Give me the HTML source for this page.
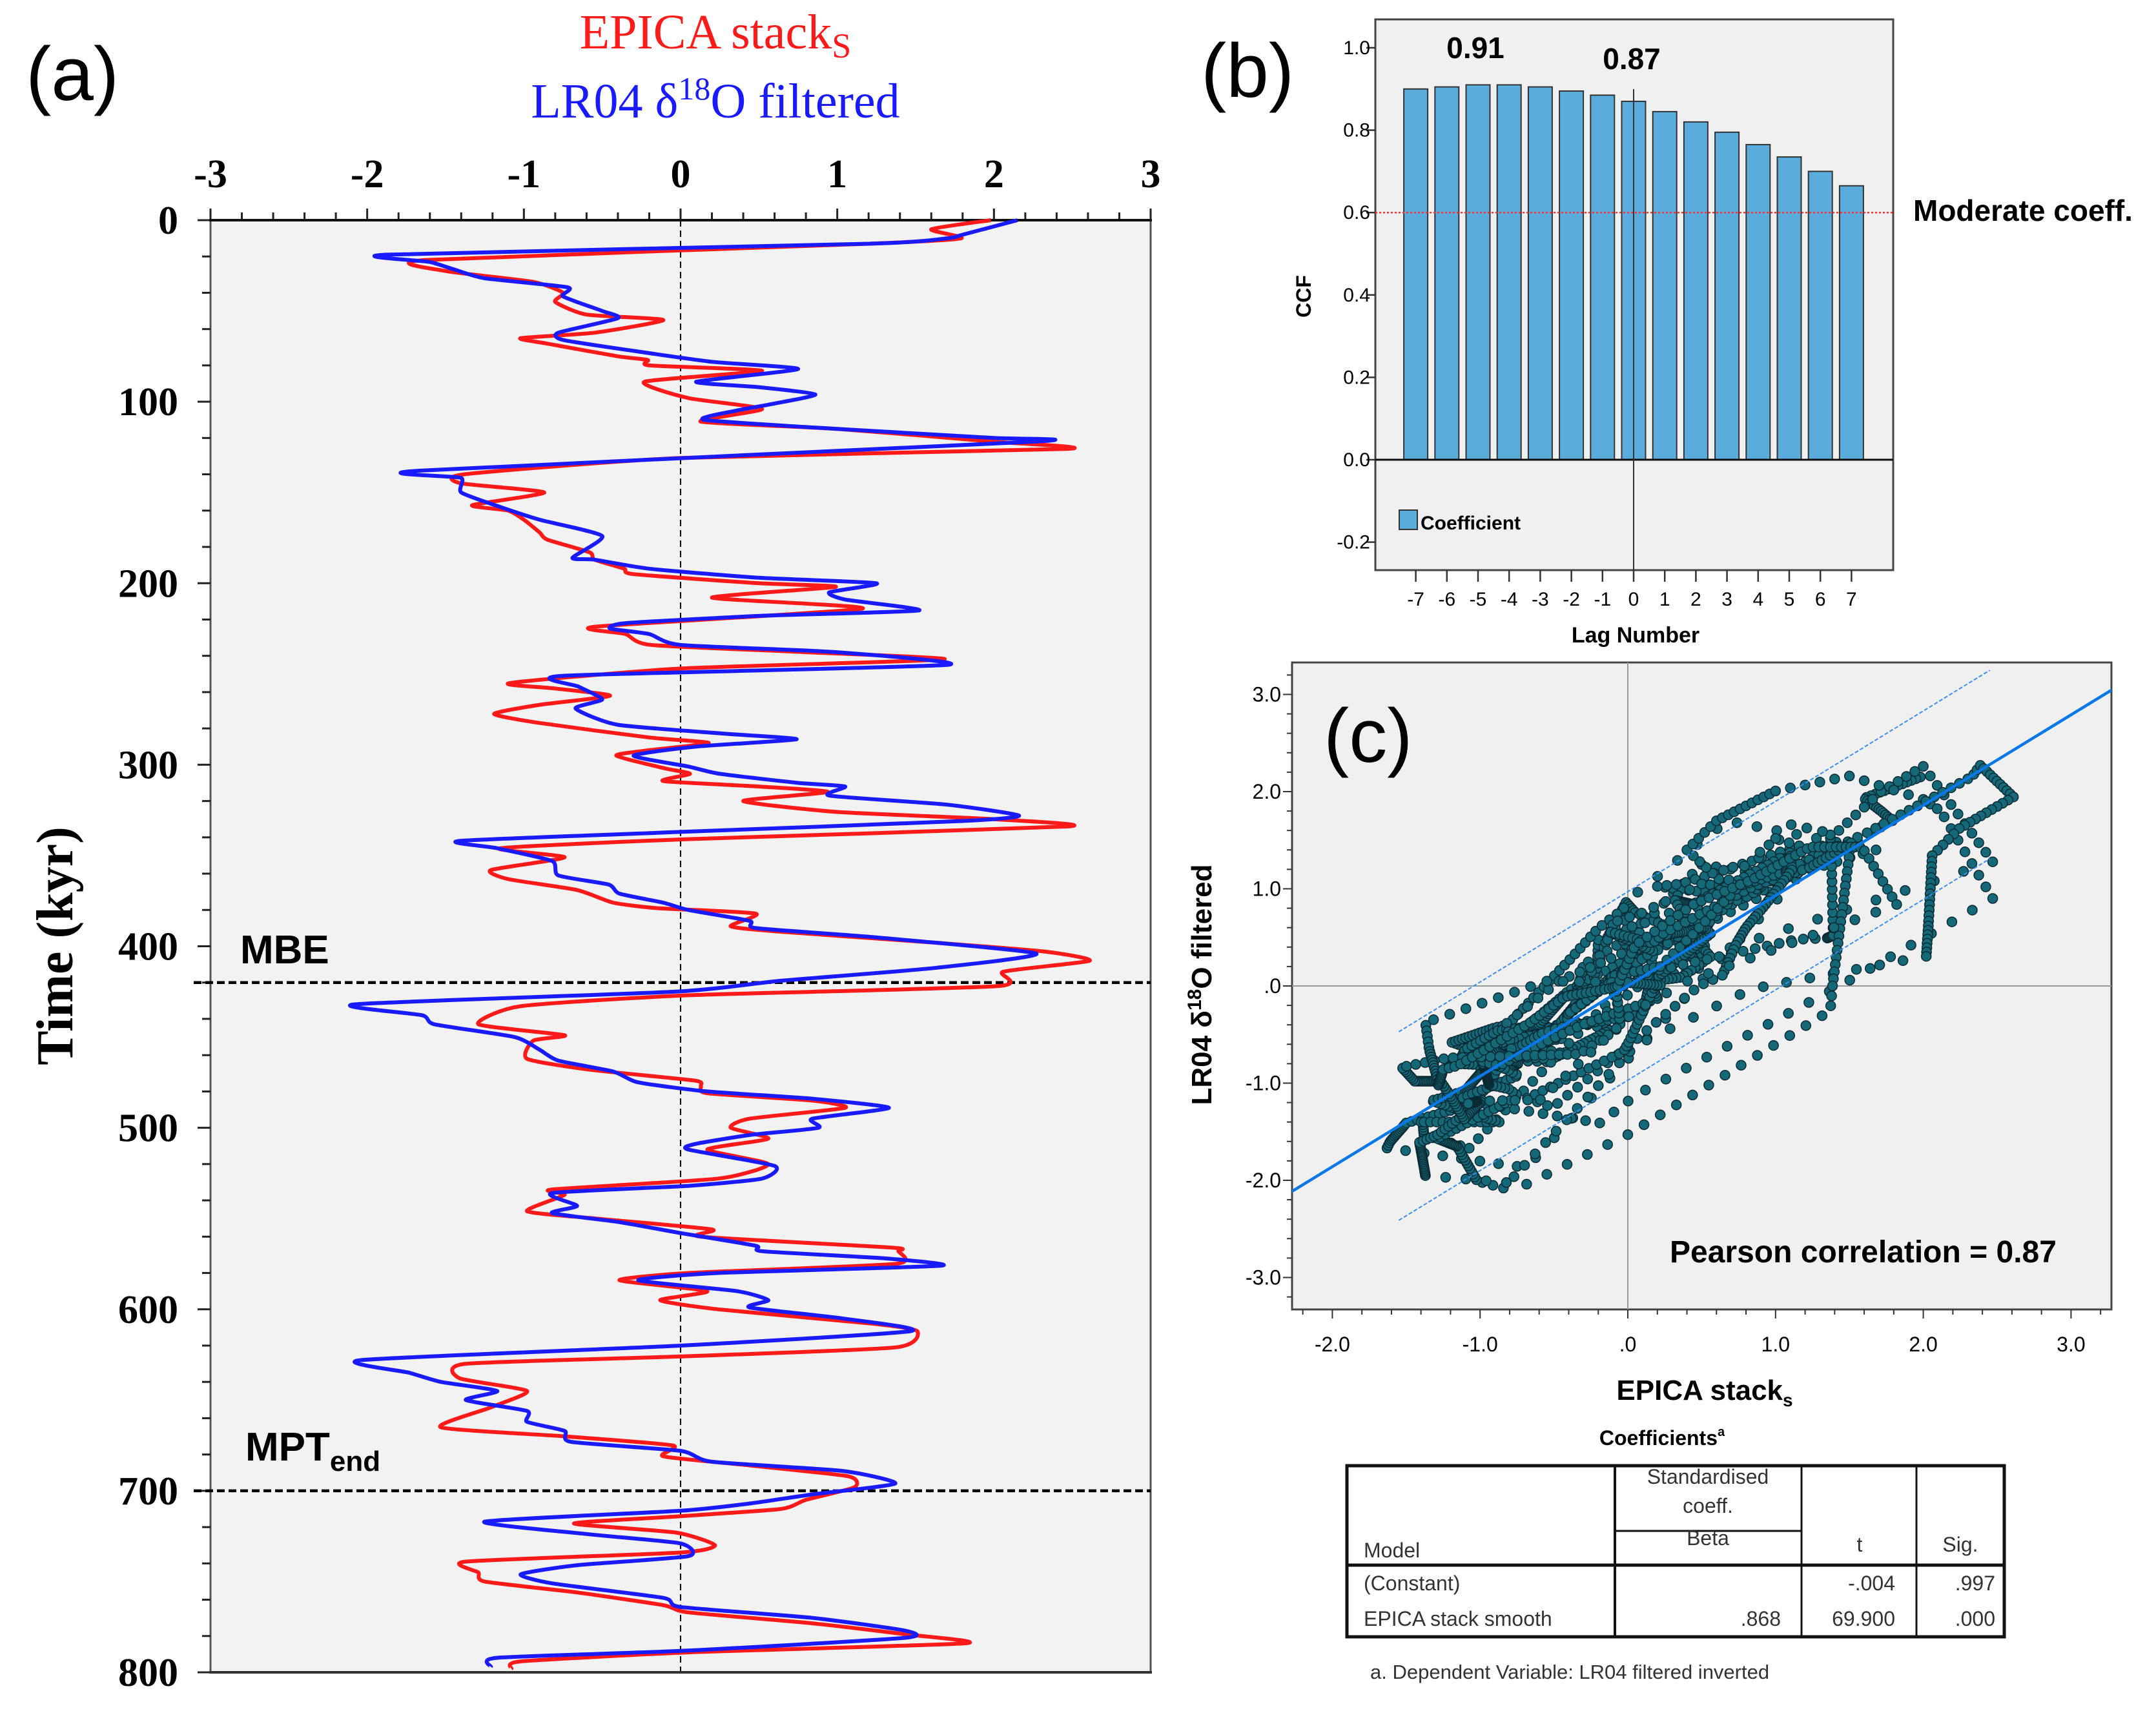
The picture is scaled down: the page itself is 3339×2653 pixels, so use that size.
<!DOCTYPE html>
<html><head><meta charset="utf-8"><style>
html,body{margin:0;padding:0;background:#fff;}
svg{display:block;}
.serif{font-family:"Liberation Serif",serif;}
.sans{font-family:"Liberation Sans",sans-serif;}
.narrow{font-family:"Liberation Sans Narrow","Liberation Sans",sans-serif;}
</style></head><body>
<svg id="fig" width="3339" height="2653" viewBox="0 0 3339 2653" xmlns="http://www.w3.org/2000/svg">
<g id="pa"></g>
<g id="pb"></g>
<g id="pc"></g>
<g id="pt"></g>
</svg>
<script>
// ---- Panel (a) data ----
const epicaT=[0,5,10,13,22,28,34,40,45,52,55,62,65,68,75,77,80,83,89,98,104,111,115,122,126,131,140,145,150,157,160,165,172,176,183,187,192,195,200,202,208,214,224,228,234,238,242,247,255,258,262,267,272,277,285,288,292,295,302,305,309,312,315,320,326,330,334,341,346,351,358,363,369,376,379,382,389,392,398,403,408,414,422,427,433,443,449,452,462,468,474,477,481,485,489,495,500,506,512,520,528,534,537,546,550,556,560,566,568,575,580,584,590,595,600,608,612,621,626,630,638,645,654,665,670,675,681,686,692,698,705,710,714,718,723,730,734,739,745,750,756,763,767,773,779,784,789,794,798];
const epicaV=[1.98,1.6,1.79,1.2,-1.63,-1.5,-0.94,-0.75,-0.8,-0.6,-0.11,-0.55,-1.02,-0.85,-0.4,-0.21,-0.2,0.52,-0.23,0.05,0.52,0.13,1.0,2.0,2.47,0.0,-1.38,-1.4,-0.87,-1.33,-1.1,-1.0,-0.9,-0.85,-0.58,-0.55,-0.36,-0.3,0.5,0.99,0.2,1.16,-0.55,-0.35,-0.19,0.8,1.68,0.0,-1.09,-0.8,-0.45,-0.9,-1.19,-0.9,-0.2,0.18,-0.2,-0.41,-0.1,0.06,-0.11,0.5,0.94,0.4,1.0,2.0,2.47,0.05,-1.15,-0.74,-1.21,-1.1,-0.66,-0.43,-0.15,0.48,0.32,0.64,1.62,2.33,2.61,2.06,2.02,0.05,-1.02,-1.29,-0.74,-0.94,-0.98,-0.58,0.09,0.13,0.17,0.84,1.05,0.44,0.32,0.56,0.17,0.56,0.24,-0.82,-0.74,-0.98,-0.54,0.2,0.13,1.35,1.39,1.37,0.05,-0.39,0.17,-0.13,0.24,1.23,1.51,1.37,0.0,-1.37,-1.41,-0.98,-1.21,-1.53,-0.74,-0.05,-0.11,0.44,1.07,1.11,0.8,0.64,0.0,-0.68,-0.03,0.22,0.0,-1.37,-1.29,-1.25,-0.66,-0.11,0.05,0.84,1.43,1.82,0.05,-1.02,-1.08];
const lr04T=[0,8,10,13,19,23,27,32,37,42,50,54,62,66,72,78,82,89,92,96,101,105,110,115,120,122,138,142,150,158,165,174,186,187,192,197,200,205,209,215,218,222,225,228,234,238,245,251,257,264,269,278,283,286,290,295,301,305,310,312,317,322,328,331,337,342,346,353,361,366,371,376,380,386,390,395,404,412,419,425,432,438,443,450,457,463,469,475,480,484,489,495,500,504,509,512,521,528,532,536,543,547,552,558,565,568,572,576,580,584,590,595,599,605,612,620,628,635,640,645,650,656,662,667,673,678,684,689,696,702,707,711,717,724,729,736,741,746,751,759,764,770,777,781,788,792,797];
const lr04V=[2.15,1.8,1.7,1.2,-1.87,-1.6,-1.45,-1.25,-0.72,-0.75,-0.5,-0.4,-0.78,-0.75,-0.3,0.2,0.75,0.1,0.5,0.86,0.6,0.35,0.15,1.0,2.0,2.26,-1.67,-1.4,-1.4,-1.15,-0.9,-0.5,-0.69,-0.55,-0.2,0.5,1.25,0.95,1.05,1.52,0.5,-0.35,-0.45,-0.2,0.0,1.0,1.7,-0.75,-0.65,-0.5,-0.67,-0.4,0.3,0.74,0.1,-0.3,0.05,0.25,0.75,1.05,0.95,1.7,2.16,1.8,0.0,-1.41,-1.17,-0.82,-0.78,-0.46,-0.39,-0.11,0.05,0.44,0.48,1.23,2.27,1.62,0.64,-0.03,-2.08,-1.65,-1.57,-1.06,-0.9,-0.78,-0.43,-0.27,0.17,0.84,1.33,0.84,0.88,0.44,0.09,0.05,0.6,0.52,0.05,-0.82,-0.66,-0.82,-0.39,0.0,0.48,0.52,1.31,1.66,0.24,-0.27,0.36,0.56,0.44,1.03,1.47,0.0,-2.04,-1.73,-1.53,-1.17,-1.37,-0.98,-0.98,-0.74,-0.7,0.0,0.2,1.03,1.37,0.84,0.44,0.0,-1.25,-0.58,0.0,0.05,-0.66,-1.02,-0.82,-0.11,0.0,0.84,1.43,1.43,0.05,-1.17,-1.21];
const aXTicks=[-3,-2,-1,0,1,2,3];
const aYTicks=[0,100,200,300,400,500,600,700,800];
const eventNames=["MBE","MPT"];
const eventTimes=[420,700];
// ---- Panel (b) data ----
const lags=[-7,-6,-5,-4,-3,-2,-1,0,1,2,3,4,5,6,7];
const ccf=[0.90,0.905,0.91,0.91,0.905,0.895,0.885,0.87,0.845,0.82,0.795,0.765,0.735,0.70,0.665];
const bYTicks=[-0.2,0.0,0.2,0.4,0.6,0.8,1.0];
const moderateLevel=0.6;
// ---- Panel (c) data ----
const cTicks=[-3,-2,-1,0,1,2,3];
const regSlope=0.93, regIntercept=0.0, ciOffset=0.97;

const NS="http://www.w3.org/2000/svg";
function mk(parent,tag,attrs,text){const e=document.createElementNS(NS,tag);for(const k in attrs)e.setAttribute(k,attrs[k]);if(text!==undefined)e.textContent=text;parent.appendChild(e);return e;}
function interp(T,V,t){for(let i=1;i<T.length;i++){if(t<=T[i]){const f=(t-T[i-1])/(T[i]-T[i-1]);return V[i-1]+f*(V[i]-V[i-1]);}}return V[V.length-1];}
function smoothPath(pts){const k=10;let d="M"+pts[0][0].toFixed(1)+","+pts[0][1].toFixed(1);for(let i=0;i<pts.length-1;i++){const p0=pts[i-1]||pts[i],p1=pts[i],p2=pts[i+1],p3=pts[i+2]||p2;const c1x=p1[0]+(p2[0]-p0[0])/k,c1y=p1[1]+(p2[1]-p0[1])/k,c2x=p2[0]-(p3[0]-p1[0])/k,c2y=p2[1]-(p3[1]-p1[1])/k;d+=" C"+c1x.toFixed(1)+","+c1y.toFixed(1)+" "+c2x.toFixed(1)+","+c2y.toFixed(1)+" "+p2[0].toFixed(1)+","+p2[1].toFixed(1);}return d;}

// ===== Panel A =====
const pa=document.getElementById('pa');
const AX0=326,AX1=1782,AY0=341,AY1=2590;
const ax=v=>AX0+(v+3)/6*(AX1-AX0);
const ay=t=>AY0+t/800*(AY1-AY0);
let e;
e=mk(pa,'rect',{x:AX0,y:AY0,width:AX1-AX0,height:AY1-AY0,fill:'#f2f2f2',stroke:'#555','stroke-width':3});

e=mk(pa,'line',{x1:ax(0),x2:ax(0),y1:AY0,y2:AY1,stroke:'#000','stroke-width':2,'stroke-dasharray':'10,6'});

for(let v=-3;v<=3.001;v+=0.2){const big=Math.abs(v-Math.round(v))<1e-6;e=mk(pa,'line',{x1:ax(v),x2:ax(v),y1:AY0,y2:AY0-(big?18:12),stroke:'#222','stroke-width':3});}
for(let t=0;t<=800;t+=20){const big=t%100===0;e=mk(pa,'line',{x1:AX0,x2:AX0-(big?20:13),y1:ay(t),y2:ay(t),stroke:'#222','stroke-width':3});}
e=mk(pa,'line',{x1:AX0-2,x2:AX1+2,y1:AY0,y2:AY0,stroke:'#111','stroke-width':4});

e=mk(pa,'line',{x1:AX0-2,x2:AX1+2,y1:AY1,y2:AY1,stroke:'#333','stroke-width':4});

aXTicks.forEach(v=>{e=mk(pa,'text',{x:ax(v),y:290,'text-anchor':'middle','font-size':62,'font-weight':'bold',class:'serif'},String(v));});
aYTicks.forEach(t=>{e=mk(pa,'text',{x:276,y:ay(t)+21,'text-anchor':'end','font-size':62,'font-weight':'bold',class:'serif'},String(t));});
eventTimes.forEach((t,i)=>{e=mk(pa,'line',{x1:300,x2:AX1,y1:ay(t),y2:ay(t),stroke:'#000','stroke-width':4.5,'stroke-dasharray':'12,6'});});
const bluePts=lr04T.map((t,i)=>[ax(lr04V[i]),ay(t)]);
const redPts=epicaT.map((t,i)=>[ax(epicaV[i]),ay(t)]);
e=mk(pa,'path',{d:smoothPath(redPts),fill:'none',stroke:'#ff1a1a','stroke-width':6,'stroke-linejoin':'round'});

e=mk(pa,'path',{d:smoothPath(bluePts),fill:'none',stroke:'#1a1aff','stroke-width':6,'stroke-linejoin':'round'});

e=mk(pa,'text',{x:372,y:1492,'font-size':62,'font-weight':'bold',class:'sans'},'MBE');

e=mk(pa,'text',{x:380,y:2262,'font-size':62,'font-weight':'bold',class:'sans'});

mk(e,'tspan',{},'MPT');mk(e,'tspan',{'font-size':44,dy:16},'end');
e=mk(pa,'text',{x:40,y:155,'font-size':118,class:'sans'},'(a)');

e=mk(pa,'text',{x:1108,y:75,'text-anchor':'middle','font-size':76,fill:'#ff1a1a',class:'serif'});

mk(e,'tspan',{},'EPICA stack');mk(e,'tspan',{'font-size':54,dy:14},'S');
e=mk(pa,'text',{x:1108,y:182,'text-anchor':'middle','font-size':76,fill:'#1a1aff',class:'serif'});

mk(e,'tspan',{},'LR04 δ');mk(e,'tspan',{'font-size':50,dy:-28},'18');mk(e,'tspan',{dy:28},'O filtered');
e=mk(pa,'text',{x:0,y:0,'text-anchor':'middle','font-size':80,'font-weight':'bold',class:'serif',transform:'translate(112,1465) rotate(-90)'},'Time (kyr)');


// ===== Panel B =====
const pb=document.getElementById('pb');
const BX0=2130,BX1=2932,BY0=30,BY1=883;
const by=v=>712-v/0.2*127.6;
const bx=l=>2530+l*48.2;
e=mk(pb,'rect',{x:BX0,y:BY0,width:BX1-BX0,height:BY1-BY0,fill:'#f0f0f0',stroke:'#444','stroke-width':3});

lags.forEach((l,i)=>{e=mk(pb,'rect',{x:bx(l)-18.5,y:by(ccf[i]),width:37,height:by(0)-by(ccf[i]),fill:'#5aacdc',stroke:'#333','stroke-width':2});});
e=mk(pb,'line',{x1:BX0,x2:BX1,y1:by(moderateLevel),y2:by(moderateLevel),stroke:'#ff3030','stroke-width':2.5,'stroke-dasharray':'3,3'});

e=mk(pb,'line',{x1:BX0,x2:BX1,y1:by(0),y2:by(0),stroke:'#111','stroke-width':3});

e=mk(pb,'line',{x1:bx(0),x2:bx(0),y1:138,y2:BY1,stroke:'#333','stroke-width':2});

bYTicks.forEach(v=>{e=mk(pb,'line',{x1:BX0-14,x2:BX0,y1:by(v),y2:by(v),stroke:'#333','stroke-width':2.5});
e=mk(pb,'text',{x:BX0-8,y:by(v)+10,'text-anchor':'end','font-size':30,class:'narrow'},v.toFixed(1));});
lags.forEach(l=>{e=mk(pb,'line',{x1:bx(l),x2:bx(l),y1:BY1,y2:BY1+18,stroke:'#333','stroke-width':2.5});
e=mk(pb,'text',{x:bx(l),y:938,'text-anchor':'middle','font-size':30,class:'narrow'},String(l));});
e=mk(pb,'text',{x:2533,y:995,'text-anchor':'middle','font-size':34,'font-weight':'bold',class:'narrow'},'Lag Number');

e=mk(pb,'text',{x:0,y:0,'text-anchor':'middle','font-size':32,'font-weight':'bold',class:'sans',transform:'translate(2030,459) rotate(-90)'},'CCF');

e=mk(pb,'rect',{x:2167,y:790,width:28,height:30,fill:'#5aacdc',stroke:'#333','stroke-width':2});

e=mk(pb,'text',{x:2200,y:820,'font-size':30,'font-weight':'bold',class:'narrow'},'Coefficient');

e=mk(pb,'text',{x:2285,y:90,'text-anchor':'middle','font-size':46,'font-weight':'bold',class:'sans'},'0.91');

e=mk(pb,'text',{x:2527,y:107,'text-anchor':'middle','font-size':46,'font-weight':'bold',class:'sans'},'0.87');

e=mk(pb,'text',{x:2963,y:342,'font-size':46,'font-weight':'bold',class:'sans'},'Moderate coeff.');

e=mk(pb,'text',{x:1860,y:150,'font-size':118,class:'sans'},'(b)');


// ===== Panel C =====
const pc=document.getElementById('pc');
const CX0=2001,CX1=3270,CY0=1026,CY1=2028;
const cx=v=>2521+v*228.8;
const cy=v=>1527-v*150.5;
e=mk(pc,'rect',{x:CX0,y:CY0,width:CX1-CX0,height:CY1-CY0,fill:'#f0f0f0',stroke:'#444','stroke-width':3});

const clip=mk(pc,'clipPath',{id:'cclip'});mk(clip,'rect',{x:CX0,y:CY0,width:CX1-CX0,height:CY1-CY0});
e=mk(pc,'line',{x1:cx(0),x2:cx(0),y1:CY0,y2:CY1,stroke:'#999','stroke-width':2});

e=mk(pc,'line',{x1:CX0,x2:CX1,y1:cy(0),y2:cy(0),stroke:'#999','stroke-width':2});

const dots=mk(pc,'g',{'clip-path':'url(#cclip)'});

for(let t=0;t<=798;t+=0.4){const xv=interp(epicaT,epicaV,t),yv=interp(lr04T,lr04V,t);e=mk(dots,'circle',{cx:cx(xv).toFixed(1),cy:cy(yv).toFixed(1),r:7.5,fill:'#156878',stroke:'#0b2a33','stroke-width':1.5});}
const gl=mk(pc,'g',{'clip-path':'url(#cclip)'});
e=mk(gl,'line',{x1:cx(-2.3),y1:cy(regIntercept+regSlope*-2.3),x2:cx(3.35),y2:cy(regIntercept+regSlope*3.35),stroke:'#0a78e8','stroke-width':4.5});

[ciOffset,-ciOffset].forEach((o,i)=>{e=mk(gl,'line',{x1:cx(-1.55),y1:cy(regSlope*-1.55+o),x2:cx(2.45),y2:cy(regSlope*2.45+o),stroke:'#3a8ff0','stroke-width':2,'stroke-dasharray':'6,3'});});
for(let v=-3.4;v<=3.3;v+=0.2){const yy=cy(v);if(yy<CY0||yy>CY1)continue;const big=Math.abs(v-Math.round(v))<1e-6;e=mk(pc,'line',{x1:CX0-(big?14:8),x2:CX0,y1:yy,y2:yy,stroke:'#333','stroke-width':2});}
for(let v=-2.2;v<=3.3;v+=0.2){const xx=cx(v);if(xx<CX0||xx>CX1)continue;const big=Math.abs(v-Math.round(v))<1e-6;e=mk(pc,'line',{x1:xx,x2:xx,y1:CY1,y2:CY1+(big?14:8),stroke:'#333','stroke-width':2});}
const fmt=v=>v===0?'.0':v.toFixed(1);
cTicks.forEach(v=>{e=mk(pc,'text',{x:1984,y:cy(v)+11,'text-anchor':'end','font-size':32,class:'narrow'},fmt(v));
if(v>=-2){e=mk(pc,'text',{x:cx(v),y:2093,'text-anchor':'middle','font-size':32,class:'narrow'},fmt(v));}});
e=mk(pc,'text',{x:0,y:0,'text-anchor':'middle','font-size':44,'font-weight':'bold',class:'sans',transform:'translate(1876,1525) rotate(-90)'});

mk(e,'tspan',{},'LR04 δ');mk(e,'tspan',{'font-size':30,dy:-16},'18');mk(e,'tspan',{dy:16},'O filtered');
e=mk(pc,'text',{x:2640,y:2168,'text-anchor':'middle','font-size':44,'font-weight':'bold',class:'sans'});

mk(e,'tspan',{},'EPICA stack');mk(e,'tspan',{'font-size':28,dy:10},'s');
e=mk(pc,'text',{x:2586,y:1955,'font-size':48,'font-weight':'bold',class:'sans'},'Pearson correlation = 0.87');

e=mk(pc,'text',{x:2050,y:1180,'font-size':118,class:'sans'},'(c)');


// ===== Table =====
const pt=document.getElementById('pt');
e=mk(pt,'text',{x:2574,y:2238,'text-anchor':'middle','font-size':32,'font-weight':'bold',class:'narrow'});

mk(e,'tspan',{},'Coefficients');mk(e,'tspan',{'font-size':20,dy:-14},'a');
e=mk(pt,'rect',{x:2086,y:2270,width:1018,height:265,fill:'#fff',stroke:'#111','stroke-width':5});

[[2501,2270,2501,2535,4],[2790,2270,2790,2535,3],[2968,2270,2968,2535,3],[2086,2424,3104,2424,5],[2501,2371,2790,2371,3]].forEach(a=>{e=mk(pt,'line',{x1:a[0],y1:a[1],x2:a[2],y2:a[3],stroke:'#111','stroke-width':a[4]});});
const cells=[[2645,2310,'middle','Standardised'],[2645,2355,'middle','coeff.'],[2645,2405,'middle','Beta'],[2880,2415,'middle','t'],[3036,2415,'middle','Sig.'],[2112,2424,'start','Model'],[2112,2475,'start','(Constant)'],[2935,2475,'end','-.004'],[3090,2475,'end','.997'],[2112,2530,'start','EPICA stack smooth'],[2758,2530,'end','.868'],[2935,2530,'end','69.900'],[3090,2530,'end','.000']];
cells.forEach(c=>{e=mk(pt,'text',{x:c[0],y:c[1]-12,'text-anchor':c[2],'font-size':32,fill:'#333',class:'narrow'},c[3]);});
e=mk(pt,'text',{x:2122,y:2600,'font-size':31,fill:'#333',class:'narrow'},'a. Dependent Variable: LR04 filtered inverted');

</script>
</body></html>
